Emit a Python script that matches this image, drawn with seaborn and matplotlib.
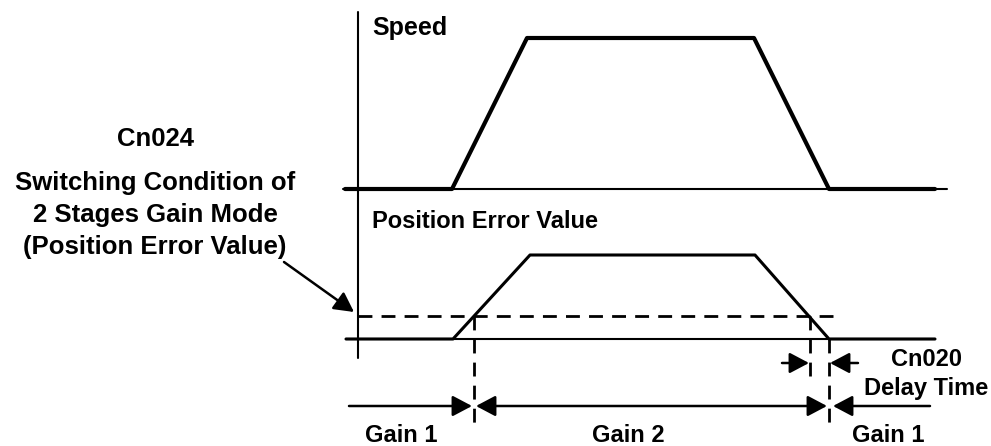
import pandas as pd
import matplotlib.pyplot as plt
import seaborn as sns

# trace data (horizontal = time, vertical = level, both in canvas units)
speed_time = [345, 452, 527, 754, 829, 935]
speed_level = [189, 189, 38, 38, 189, 189]
error_time = [346, 453, 530, 755, 829, 935]
error_level = [339, 339, 255, 255, 339, 339]

threshold_level = 316
switch_on_time = 474
switch_off_time = 810
gain1_return_time = 829

left_lines = ["Cn024", "Switching Condition of", "2 Stages Gain Mode", "(Position Error Value)"]
gain_labels = ["Gain 1", "Gain 2", "Gain 1"]
delay_lines = ["Cn020", "Delay Time"]

sns.set_theme(style="white")
plt.rcParams['font.family'] = ['Liberation Sans', 'DejaVu Sans']

fig = plt.figure(figsize=(9.91, 4.46), dpi=100)
ax = fig.add_axes([0, 0, 1, 1])

# axes of the diagram
ax.plot([358, 358], [12, 358], color="black", lw=1.5)
ax.plot([343, 947], [189, 189], color="black", lw=1.5)
ax.plot([346, 935], [339, 339], color="black", lw=1.5)

df_speed = pd.DataFrame({"t": speed_time, "v": speed_level})
df_error = pd.DataFrame({"t": error_time, "v": error_level})
sns.lineplot(data=df_speed, x="t", y="v", sort=False, color="black", lw=3, ax=ax)
sns.lineplot(data=df_error, x="t", y="v", sort=False, color="black", lw=2.2, ax=ax)
ax.set_xlim(0, 991)
ax.set_ylim(446, 0)
ax.axis("off")

dash = (0, (5, 3.3))
dlw = 2.0
ax.plot([358, 833], [threshold_level, threshold_level], color="black", lw=dlw, linestyle=dash)
ax.plot([switch_on_time, switch_on_time], [threshold_level, 424], color="black", lw=dlw, linestyle=dash)
ax.plot([switch_off_time, switch_off_time], [threshold_level, 378], color="black", lw=dlw, linestyle=dash)
ax.plot([gain1_return_time, gain1_return_time], [339, 428], color="black", lw=dlw, linestyle=dash)

head = dict(arrowstyle="-|>,head_length=0.85,head_width=0.45", color="black", lw=1.8,
            shrinkA=0, shrinkB=0, mutation_scale=14)
both = dict(arrowstyle="<|-|>,head_length=0.85,head_width=0.45", color="black", lw=1.8,
            shrinkA=0, shrinkB=0, mutation_scale=14)

gain_y = 406
ax.annotate("", xy=(switch_on_time - 2, gain_y), xytext=(349, gain_y), arrowprops=head)
ax.annotate("", xy=(gain1_return_time - 2, gain_y), xytext=(switch_on_time + 2, gain_y), arrowprops=both)
ax.annotate("", xy=(gain1_return_time + 4, gain_y), xytext=(930, gain_y), arrowprops=head)

delay_y = 363
ax.annotate("", xy=(switch_off_time - 1, delay_y), xytext=(782, delay_y), arrowprops=head)
ax.annotate("", xy=(gain1_return_time + 1, delay_y), xytext=(858, delay_y), arrowprops=head)

# callout arrow to threshold
ax.annotate("", xy=(354, 312), xytext=(284, 262), arrowprops=head)

txt = dict(fontweight="bold", color="black")
ax.text(372, 28, "Speed", ha="left", va="center", fontsize=18, **txt)
ax.text(372, 222, "Position Error Value", ha="left", va="center", fontsize=17, **txt)

for line, y in zip(left_lines, [139, 183, 215, 247]):
    ax.text(155, y, line, ha="center", va="center", fontsize=18.5, **txt)

for label, x in zip(gain_labels, [401, 628, 888]):
    ax.text(x, 435, label, ha="center", va="center", fontsize=17, **txt)

for line, y in zip(delay_lines, [359, 388]):
    ax.text(926, y, line, ha="center", va="center", fontsize=17, **txt)

plt.savefig("out.png", dpi=100)
